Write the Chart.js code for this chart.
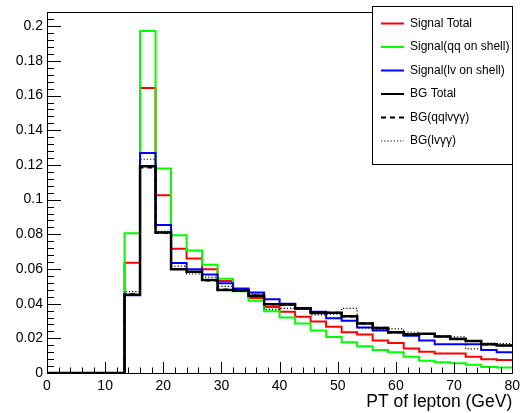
<!DOCTYPE html>
<html>
<head>
<meta charset="utf-8">
<script src="https://cdn.jsdelivr.net/npm/chart.js@4/dist/chart.umd.min.js"></script>
<style>
  body { margin: 0; background: #fff; }
</style>
</head>
<body>
<canvas id="myChart" width="525" height="413"></canvas>
<script>
// low edges of the 30 pT bins (GeV), last entry closes the final bin
const binEdges = [0, 2.667, 5.333, 8, 10.667, 13.333, 16, 18.667, 21.333, 24,
    26.667, 29.333, 32, 34.667, 37.333, 40, 42.667, 45.333, 48, 50.667,
    53.333, 56, 58.667, 61.333, 64, 66.667, 69.333, 72, 74.667, 77.333, 80];

const signalTotal = [0, 0, 0, 0, 0, 0.0636, 0.1644, 0.1026, 0.0717, 0.0661,
    0.0599, 0.0531, 0.0480, 0.0433, 0.0380, 0.0354, 0.0324, 0.0297, 0.0267, 0.0235,
    0.0222, 0.0188, 0.0173, 0.0141, 0.0122, 0.0113, 0.0113, 0.0094, 0.0079, 0.0075];
const signalQQ = [0, 0, 0, 0, 0, 0.0806, 0.1973, 0.1180, 0.0794, 0.0706,
    0.0625, 0.0544, 0.0471, 0.0417, 0.0356, 0.0320, 0.0286, 0.0245, 0.0207, 0.0177,
    0.0154, 0.0132, 0.0120, 0.0094, 0.0071, 0.0062, 0.0056, 0.0047, 0.0034, 0.0032];
const signalLv = [0, 0, 0, 0, 0, 0.0448, 0.1269, 0.0853, 0.0634, 0.0599,
    0.0568, 0.0518, 0.0487, 0.0465, 0.0425, 0.0399, 0.0370, 0.0354, 0.0316, 0.0301,
    0.0263, 0.0245, 0.0235, 0.0215, 0.0188, 0.0166, 0.0166, 0.0166, 0.0132, 0.0120];
const bgTotal = [0, 0, 0, 0, 0, 0.0452, 0.1192, 0.0811, 0.0599, 0.0584,
    0.0536, 0.0479, 0.0476, 0.0446, 0.0397, 0.0395, 0.0373, 0.0346, 0.0348, 0.0328,
    0.0286, 0.0260, 0.0235, 0.0222, 0.0226, 0.0211, 0.0196, 0.0184, 0.0166, 0.0158];
const bgQQlvAA = [0, 0, 0, 0, 0, 0.0455, 0.1186, 0.0809, 0.0600, 0.0582,
    0.0534, 0.0481, 0.0475, 0.0447, 0.0396, 0.0394, 0.0372, 0.0347, 0.0347, 0.0326,
    0.0287, 0.0261, 0.0234, 0.0223, 0.0225, 0.0210, 0.0197, 0.0185, 0.0165, 0.0159];
const bgLvAA = [0, 0, 0, 0, 0, 0.0469, 0.1233, 0.0817, 0.0616, 0.0571,
    0.0553, 0.0500, 0.0480, 0.0455, 0.0367, 0.0373, 0.0376, 0.0335, 0.0339, 0.0373,
    0.0260, 0.0250, 0.0254, 0.0235, 0.0226, 0.0215, 0.0208, 0.0139, 0.0173, 0.0170];

const xTicks = [0, 10, 20, 30, 40, 50, 60, 70, 80];
const xTitle = 'PT of lepton (GeV)';

// legend entries, top to bottom
const legendItems = [
    { text: 'Signal Total', color: '#ff0000', width: 2, dash: [] },
    { text: 'Signal(qq on shell)', color: '#00ff00', width: 2, dash: [] },
    { text: 'Signal(lv on shell)', color: '#0000ff', width: 2, dash: [] },
    { text: 'BG Total', color: '#000000', width: 2, dash: [] },
    { text: 'BG(qqlv\u03b3\u03b3)', color: '#000000', width: 2, dash: [5, 4] },
    { text: 'BG(lv\u03b3\u03b3)', color: '#000000', width: 1.2, dash: [1.2, 2] }
];

function histPoints(vals) {
    const pts = [];
    for (let i = 0; i < vals.length; i++) {
        pts.push({ x: binEdges[i], y: vals[i] });
    }
    pts.push({ x: binEdges[binEdges.length - 1], y: vals[vals.length - 1] });
    return pts;
}

function histDataset(label, vals, color, width, dash, order) {
    return {
        label: label,
        data: histPoints(vals),
        borderColor: color,
        borderWidth: width,
        borderDash: dash,
        stepped: 'before',
        pointRadius: 0,
        fill: false,
        order: order
    };
}

// ROOT style frame with inward tick marks
const rootFrame = {
    id: 'rootFrame',
    afterDatasetsDraw(chart) {
        const ctx = chart.ctx;
        const a = chart.chartArea;
        const xs = chart.scales.x;
        const ys = chart.scales.y;
        ctx.save();
        ctx.strokeStyle = '#000';
        ctx.lineWidth = 1;
        ctx.strokeRect(Math.round(a.left) + 0.5, Math.round(a.top) + 0.5,
            Math.round(a.right - a.left), Math.round(a.bottom - a.top));
        ctx.beginPath();
        for (let v = 0; v <= 80; v += 2) {
            const px = Math.round(xs.getPixelForValue(v)) + 0.5;
            const len = (v % 10 === 0) ? 11 : 5.5;
            ctx.moveTo(px, a.bottom);
            ctx.lineTo(px, a.bottom - len);
        }
        for (let i = 0; i * 0.004 <= ys.max + 1e-9; i++) {
            const py = Math.round(ys.getPixelForValue(i * 0.004)) + 0.5;
            const len = (i % 5 === 0) ? 14 : 7;
            ctx.moveTo(a.left, py);
            ctx.lineTo(a.left + len, py);
        }
        ctx.stroke();
        ctx.restore();
    },
    afterDraw(chart) {
        const ctx = chart.ctx;
        const box = { left: 372, top: 6, right: 512, bottom: 164 };
        ctx.save();
        ctx.fillStyle = '#fff';
        ctx.fillRect(box.left, box.top, box.right - box.left, box.bottom - box.top);
        ctx.strokeStyle = '#000';
        ctx.lineWidth = 1;
        ctx.strokeRect(box.left + 0.5, box.top + 0.5, box.right - box.left, box.bottom - box.top);
        ctx.font = "12px 'Liberation Sans', Arial, sans-serif";
        ctx.textBaseline = 'middle';
        ctx.fillStyle = '#000';
        for (let i = 0; i < legendItems.length; i++) {
            const it = legendItems[i];
            const y = 23.5 + i * 23.5;
            ctx.beginPath();
            ctx.strokeStyle = it.color;
            ctx.lineWidth = it.width;
            ctx.setLineDash(it.dash);
            ctx.moveTo(381, y);
            ctx.lineTo(404, y);
            ctx.stroke();
            ctx.setLineDash([]);
            ctx.fillText(it.text, 410, y);
        }
        ctx.restore();
    }
};

Chart.defaults.font.family = "'Liberation Sans', Arial, sans-serif";
Chart.defaults.font.size = 14;
Chart.defaults.color = '#000';

const ctx = document.getElementById('myChart').getContext('2d');
const myChart = new Chart(ctx, {
    type: 'line',
    data: {
        datasets: [
            histDataset('Signal Total', signalTotal, '#ff0000', 2, [], 6),
            histDataset('Signal(qq on shell)', signalQQ, '#00ff00', 2, [], 5),
            histDataset('Signal(lv on shell)', signalLv, '#0000ff', 2, [], 4),
            histDataset('BG Total', bgTotal, '#000000', 2.5, [], 3),
            histDataset('BG(qqlv\u03b3\u03b3)', bgQQlvAA, '#000000', 2, [5, 4], 2),
            histDataset('BG(lv\u03b3\u03b3)', bgLvAA, '#000000', 1.2, [1.2, 2], 1)
        ]
    },
    options: {
        responsive: false,
        animation: false,
        layout: { padding: { left: 0, right: 11, top: 5, bottom: 0 } },
        plugins: {
            legend: { display: false },
            tooltip: { enabled: false }
        },
        scales: {
            x: {
                type: 'linear',
                min: 0,
                max: 80,
                afterFit: (s) => { s.height = 40; },
                afterBuildTicks: (s) => { s.ticks = xTicks.map(v => ({ value: v })); },
                grid: { display: false, drawTicks: false },
                border: { display: false },
                ticks: { padding: 5, maxRotation: 0, font: { size: 14 } },
                title: {
                    display: true,
                    text: xTitle,
                    align: 'end',
                    padding: { top: 0, bottom: 0 },
                    font: { size: 17.5 }
                }
            },
            y: {
                type: 'linear',
                min: 0,
                max: 0.208,
                afterFit: (s) => { s.width = 47; },
                grid: { display: false, drawTicks: false },
                border: { display: false },
                ticks: {
                    stepSize: 0.02,
                    includeBounds: false,
                    padding: 4,
                    font: { size: 14 },
                    callback: (v) => String(Number(v.toFixed(3)))
                }
            }
        }
    },
    plugins: [rootFrame]
});
</script>
</body>
</html>
